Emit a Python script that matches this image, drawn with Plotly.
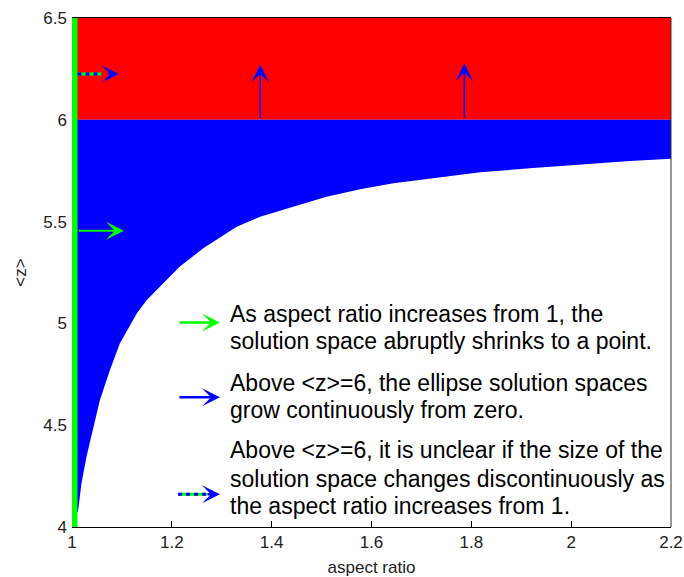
import plotly.graph_objects as go

# axis limits
AR_RANGE = [1.0, 2.2]
Z_RANGE = [4.0, 6.5]
Z_ELLIPSE = 6.0          # above this <z> the ellipse solution spaces appear

# lower edge of the solution region (aspect ratio -> <z>)
edge_ar = [1.012, 1.019, 1.029, 1.043, 1.056, 1.076, 1.096, 1.130, 1.150,
           1.176, 1.216, 1.263, 1.330, 1.377, 1.397, 1.443, 1.510, 1.577,
           1.644, 1.711, 1.777, 1.818, 1.917, 2.018, 2.118, 2.200]
edge_z = [4.075, 4.215, 4.345, 4.493, 4.624, 4.771, 4.902, 5.050, 5.115,
          5.180, 5.279, 5.369, 5.475, 5.524, 5.540, 5.573, 5.622, 5.659,
          5.688, 5.708, 5.729, 5.742, 5.762, 5.781, 5.798, 5.809]

# arrows drawn inside the axes
grow_ar = [1.377, 1.786]          # upward "grow continuously" arrows
grow_tip_z = [6.27, 6.277]
shrink_arrow = dict(ar0=1.011, ar1=1.104, z=5.455)     # green
unclear_arrow = dict(ar0=1.011, ar1=1.094, z=6.225)    # dotted blue/green

# explanatory notes, one entry per text line, with vertical positions
note_lines = [
    "As aspect ratio increases from 1, the",
    "solution space abruptly shrinks to a point.",
    "Above &lt;z&gt;=6, the ellipse solution spaces",
    "grow continuously from zero.",
    "Above &lt;z&gt;=6, it is unclear if the size of the",
    "solution space changes discontinuously as",
    "the aspect ratio increases from 1.",
]
note_line_y = [0.4191, 0.3648, 0.2829, 0.2289, 0.1507, 0.0943, 0.0407]
note_key_y = [0.402, 0.2548, 0.0642]

RED, BLUE, GREEN = "#ff0000", "#0000ff", "#00ff00"
FONT = "Liberation Sans, Arial, Helvetica, sans-serif"

fig = go.Figure()

# red band: <z> above the ellipse threshold
fig.add_trace(go.Scatter(
    x=[AR_RANGE[0], AR_RANGE[1], AR_RANGE[1], AR_RANGE[0], AR_RANGE[0]],
    y=[Z_ELLIPSE, Z_ELLIPSE, Z_RANGE[1], Z_RANGE[1], Z_ELLIPSE],
    fill="toself", fillcolor=RED, mode="lines",
    line=dict(width=0, color=RED), hoverinfo="skip", showlegend=False))

# blue solution region between the lower edge and the threshold
fig.add_trace(go.Scatter(
    x=[AR_RANGE[0], AR_RANGE[0]] + edge_ar + [AR_RANGE[1], AR_RANGE[0]],
    y=[Z_ELLIPSE, edge_z[0]] + edge_z + [Z_ELLIPSE, Z_ELLIPSE],
    fill="toself", fillcolor=BLUE, mode="lines",
    line=dict(width=0, color=BLUE), hoverinfo="skip", showlegend=False))

# aspect ratio 1: solutions for every <z>
fig.add_trace(go.Scatter(
    x=[AR_RANGE[0], AR_RANGE[0]], y=Z_RANGE, mode="lines",
    line=dict(width=11, color=GREEN), hoverinfo="skip", showlegend=False))

# dotted shaft of the "unclear" arrow
shaft_x = [unclear_arrow["ar0"], unclear_arrow["ar1"] - 0.034]
shaft_y = [unclear_arrow["z"], unclear_arrow["z"]]
fig.add_trace(go.Scatter(x=shaft_x, y=shaft_y, mode="lines",
                         line=dict(width=3, color=GREEN),
                         hoverinfo="skip", showlegend=False))
fig.add_trace(go.Scatter(x=shaft_x, y=shaft_y, mode="lines",
                         line=dict(width=3, color=BLUE, dash="4px,4px"),
                         hoverinfo="skip", showlegend=False))

annotations = []

# upward growth arrows
for ar, tip in zip(grow_ar, grow_tip_z):
    annotations.append(dict(
        x=ar, y=tip, ax=ar, ay=Z_ELLIPSE, xref="x", yref="y",
        axref="x", ayref="y", text="", showarrow=True,
        arrowhead=3, arrowwidth=1.5, arrowsize=2, arrowcolor=BLUE))

# green shrink arrow
annotations.append(dict(
    x=shrink_arrow["ar1"], y=shrink_arrow["z"],
    ax=shrink_arrow["ar0"], ay=shrink_arrow["z"],
    xref="x", yref="y", axref="x", ayref="y", text="", showarrow=True,
    arrowhead=3, arrowwidth=2, arrowsize=1.5, arrowcolor=GREEN))

# head of the dotted arrow
annotations.append(dict(
    x=unclear_arrow["ar1"], y=unclear_arrow["z"], ax=-12, ay=0,
    xref="x", yref="y", text="", showarrow=True,
    arrowhead=3, arrowwidth=3, arrowsize=0.95, arrowcolor=BLUE))

# note keys
key_colors = [GREEN, BLUE, BLUE]
for i, (ky, col) in enumerate(zip(note_key_y, key_colors)):
    annotations.append(dict(
        x=0.247, y=ky, xref="x domain", yref="y domain",
        ax=-42 if i < 2 else -14, ay=0, text="", showarrow=True,
        arrowhead=3, arrowwidth=2.5, arrowsize=1.2, arrowcolor=col))

# note texts
for txt, ny in zip(note_lines, note_line_y):
    annotations.append(dict(
        x=0.261, y=ny, xref="x domain", yref="y domain",
        xanchor="left", yanchor="middle", align="left", showarrow=False,
        text=txt, font=dict(family=FONT, size=23, color="#000000")))

shapes = [
    # dotted key shaft
    dict(type="line", xref="x domain", yref="y domain",
         x0=0.177, x1=0.225, y0=note_key_y[2], y1=note_key_y[2],
         line=dict(color=GREEN, width=3), layer="above"),
    dict(type="line", xref="x domain", yref="y domain",
         x0=0.177, x1=0.225, y0=note_key_y[2], y1=note_key_y[2],
         line=dict(color=BLUE, width=3, dash="4px,4px"), layer="above"),
    # right frame edge
    dict(type="line", xref="paper", yref="paper", x0=1, x1=1, y0=0, y1=1,
         line=dict(color="#333333", width=1), layer="above"),
]

tickfont = dict(family=FONT, size=17, color="#222222")

fig.update_layout(
    width=684, height=577,
    margin=dict(l=72, r=13, t=18, b=50),
    paper_bgcolor="white", plot_bgcolor="white",
    showlegend=False,
    annotations=annotations,
    shapes=shapes,
    xaxis=dict(
        range=AR_RANGE, tickmode="linear", tick0=1.0, dtick=0.2,
        ticks="inside", ticklen=6, tickcolor="#000000",
        showline=True, linecolor="#000000", linewidth=1, mirror=True,
        showgrid=False, zeroline=False, tickfont=tickfont,
        automargin=False,
        title=dict(text="aspect ratio", font=dict(family=FONT, size=17, color="#222222"),
                   standoff=14),
        layer="above traces"),
    yaxis=dict(
        range=Z_RANGE, tickmode="linear", tick0=4.0, dtick=0.5,
        ticks="inside", ticklen=6, tickcolor="#000000",
        showline=False, mirror=True,
        showgrid=False, zeroline=False, tickfont=tickfont,
        ticklabelstandoff=4, automargin=False,
        title=dict(text="&lt;z&gt;", font=dict(family=FONT, size=17, color="#222222"),
                   standoff=12),
        layer="below traces"),
)

fig.write_html("out.html")
